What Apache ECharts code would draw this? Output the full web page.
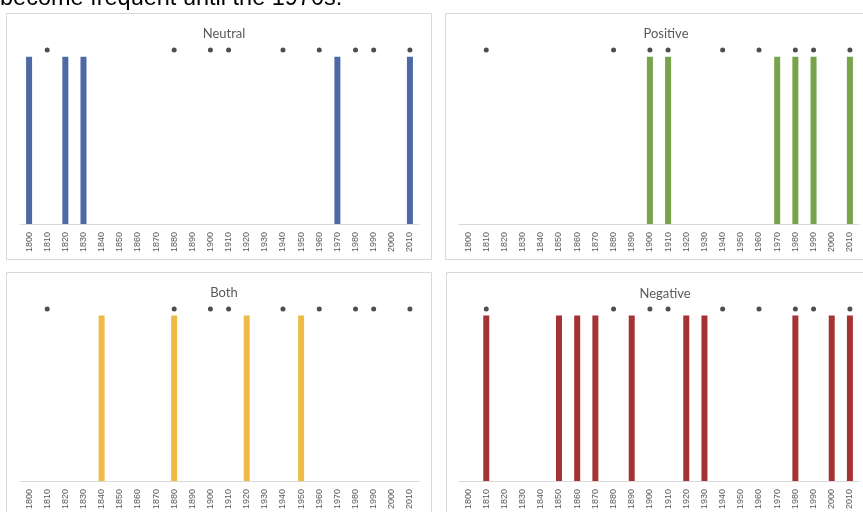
<!DOCTYPE html>
<html>
<head>
<meta charset="utf-8">
<script src="https://cdn.jsdelivr.net/npm/echarts@6/dist/echarts.min.js"></script>
<style>
html,body{margin:0;padding:0;background:#fff;}
#c{width:863px;height:512px;}
</style>
</head>
<body>
<div id="c"></div>
<script>
// Decades on the x axis
var years = ['1800','1810','1820','1830','1840','1850','1860','1870','1880','1890','1900','1910','1920','1930','1940','1950','1960','1970','1980','1990','2000','2010'];
// 1 = decade present in the category
var neutral  = [1,0,1,1,0,0,0,0,0,0,0,0,0,0,0,0,0,1,0,0,0,1];
var positive = [0,0,0,0,0,0,0,0,0,0,1,1,0,0,0,0,0,1,1,1,0,1];
var both     = [0,0,0,0,1,0,0,0,1,0,0,0,1,0,0,1,0,0,0,0,0,0];
var negative = [0,1,0,0,0,1,1,1,0,1,0,0,1,1,0,0,0,0,1,0,1,1];
// asterisk markers shown above the bars in every panel
var stars    = [0,1,0,0,0,0,0,0,1,0,1,1,0,0,1,0,1,0,1,1,0,1];
var markerLevel = 1.04;
var panelTitles = ['Neutral','Positive','Both','Negative'];
var topText = 'become frequent until the 1970s.';

var seriesData = [neutral, positive, both, negative];
var colors = ['#4E6AA6','#78A34C','#EFBA45','#A53333'];
var grids = [
  {left:20, top:40, width:399, height:184},
  {left:459, top:40, width:400, height:184},
  {left:20, top:299, width:399, height:184},
  {left:459, top:299, width:400, height:184}
];
var titlePos = [[219,31],[661,31],[219,290],[660,291]];
var panels = [
  {x:6.5, y:13.5, w:425, h:246},
  {x:445.5, y:13.5, w:430, h:246},
  {x:6.5, y:272.5, w:425, h:260},
  {x:446.5, y:272.5, w:430, h:260}
];

var chart = echarts.init(document.getElementById('c'), null, {renderer:'canvas'});
var xAxes = [], yAxes = [], series = [], titles = [], graphics = [];
var starValues = stars.map(function(s){ return s ? markerLevel : '-'; });

panels.forEach(function(p){
  graphics.push({type:'rect', shape:{x:p.x, y:p.y, width:p.w, height:p.h},
    style:{fill:'#fff', stroke:'#D9D9D9', lineWidth:1}, z:-10});
});
graphics.push({type:'text', x:0, y:11, style:{text:topText, font:'23.5px "Liberation Sans", Arial, sans-serif', fill:'#000', textVerticalAlign:'bottom'}});

for (var i=0;i<4;i++){
  xAxes.push({type:'category', gridIndex:i, data:years,
    axisLine:{show:true, lineStyle:{color:'#D9D9D9', width:1}},
    axisTick:{show:false},
    axisLabel:{rotate:90, interval:0, fontSize:9, color:'#595959', fontFamily:'"Liberation Sans", Arial, sans-serif', margin:8}
  });
  yAxes.push({type:'value', gridIndex:i, min:0, max:1.1, show:false, splitLine:{show:false}});
  series.push({type:'bar', xAxisIndex:i, yAxisIndex:i, data:seriesData[i], barWidth:6,
    itemStyle:{color:colors[i]}, silent:true});
  series.push({type:'scatter', xAxisIndex:i, yAxisIndex:i, data:starValues,
    symbol:'circle', symbolSize:5, itemStyle:{color:'#222'}, silent:true});
  titles.push({text:panelTitles[i], left:titlePos[i][0], top:titlePos[i][1],
    textStyle:{fontSize:13, fontWeight:'normal', color:'#595959', fontFamily:'Lato, "Open Sans", sans-serif'}});
}

chart.setOption({
  animation:false,
  backgroundColor:'#fff',
  title: titles.map(function(t){
    return {text:t.text, left:t.left, top:t.top-9, textAlign:'center', textStyle:t.textStyle};
  }),
  grid: grids,
  xAxis: xAxes,
  yAxis: yAxes,
  series: series,
  graphic: graphics
});
</script>
</body>
</html>
